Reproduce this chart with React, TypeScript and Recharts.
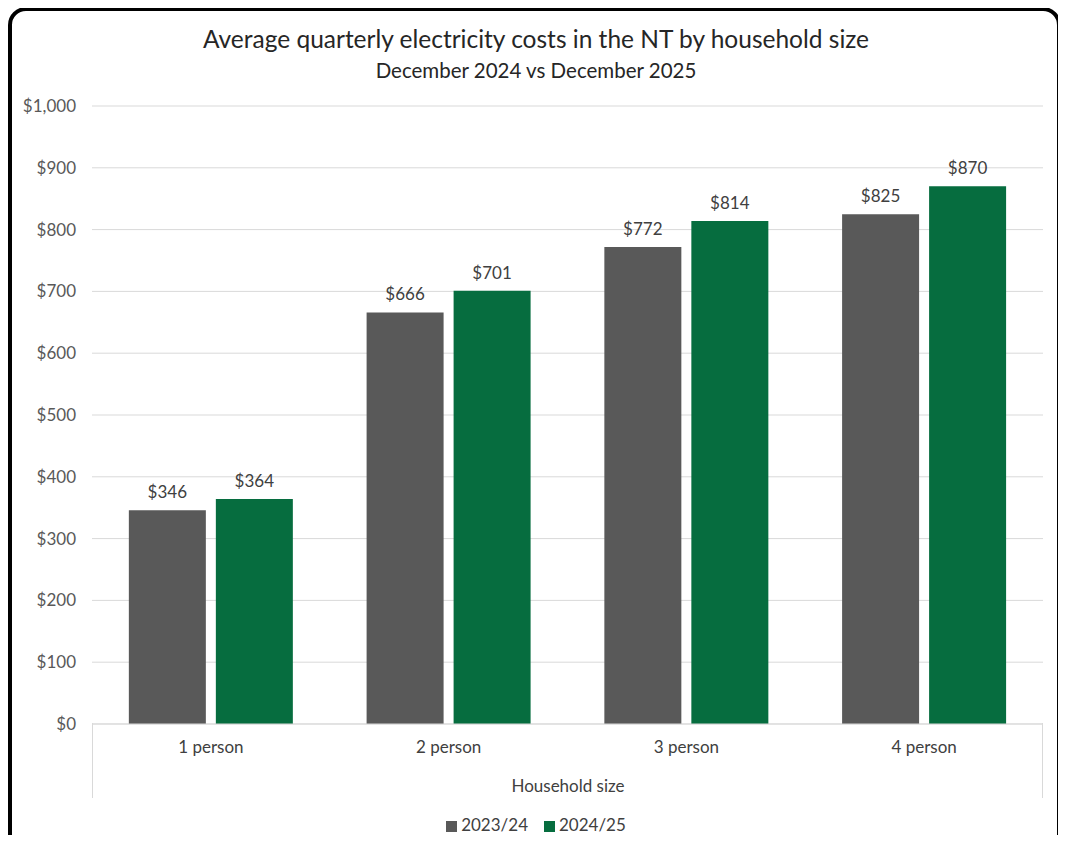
import React from "react";
import { BarChart, Bar, XAxis, YAxis, CartesianGrid, Legend, LabelList } from "recharts";

const categories = ["1 person", "2 person", "3 person", "4 person"];
const series2324 = [346, 666, 772, 825];
const series2425 = [364, 701, 814, 870];
const yTicks = [0, 100, 200, 300, 400, 500, 600, 700, 800, 900, 1000];
const seriesNames = ["2023/24", "2024/25"];

const data = categories.map((c, i) => ({ name: c, a: series2324[i], b: series2425[i] }));

const FONT = "Lato, 'Open Sans', sans-serif";
const fmt = (v: number) => "$" + v.toLocaleString("en-US");

export default function App() {
  return (
    <div style={{ margin: -8, position: "relative", width: 1066, height: 843, background: "#fff", overflow: "hidden", fontFamily: FONT }}>
      <div style={{ position: "absolute", left: 8, top: 7, width: 1045, height: 845, border: "4px solid #000", borderRadius: 18, boxSizing: "content-box", pointerEvents: "none" }} />
      <div style={{ position: "absolute", left: 0, width: 1072, top: 24, textAlign: "center", fontSize: 24.5, color: "#262626" }}>
        Average quarterly electricity costs in the NT by household size
      </div>
      <div style={{ position: "absolute", left: 0, width: 1072, top: 58, textAlign: "center", fontSize: 20.5, color: "#262626" }}>
        December 2024 vs December 2025
      </div>
      <div style={{ position: "absolute", left: 92, top: 723, width: 1, height: 75, background: "#d9d9d9" }} />
      <div style={{ position: "absolute", left: 1042, top: 723, width: 1, height: 75, background: "#d9d9d9" }} />
      <div style={{ position: "absolute", left: 92, width: 952, top: 775, textAlign: "center", fontSize: 17, color: "#404040" }}>
        Household size
      </div>
      <div style={{ position: "absolute", left: 0, top: 0 }}>
        <BarChart width={1066} height={843} data={data} margin={{ top: 106, right: 23, bottom: 68, left: 1 }} barCategoryGap="15.5%" barGap={10}>
          <CartesianGrid vertical={false} stroke="#d9d9d9" />
          <XAxis dataKey="name" tickLine={false} axisLine={{ stroke: "#d9d9d9" }} tickSize={6} tickMargin={11}
            tick={{ fill: "#404040", fontSize: 17, fontFamily: FONT }} />
          <YAxis domain={[0, 1000]} ticks={yTicks} width={91} tickLine={false} axisLine={false} tickSize={6} tickMargin={10}
            tickFormatter={fmt} tick={{ fill: "#595959", fontSize: 17, fontFamily: FONT }} />
          <Legend verticalAlign="bottom" iconType="square" iconSize={11}
            wrapperStyle={{ fontSize: 17, fontFamily: FONT, top: 814, bottom: "auto", left: 0, width: 1088 }}
            formatter={(v: string) => <span style={{ color: "#404040", marginRight: 6 }}>{v}</span>} />
          <Bar dataKey="a" name={seriesNames[0]} fill="#595959" isAnimationActive={false}>
            <LabelList dataKey="a" position="top" offset={12} formatter={fmt} style={{ fill: "#404040", fontSize: 17, fontFamily: FONT }} />
          </Bar>
          <Bar dataKey="b" name={seriesNames[1]} fill="#066d3f" isAnimationActive={false}>
            <LabelList dataKey="b" position="top" offset={12} formatter={fmt} style={{ fill: "#404040", fontSize: 17, fontFamily: FONT }} />
          </Bar>
        </BarChart>
      </div>
    </div>
  );
}
